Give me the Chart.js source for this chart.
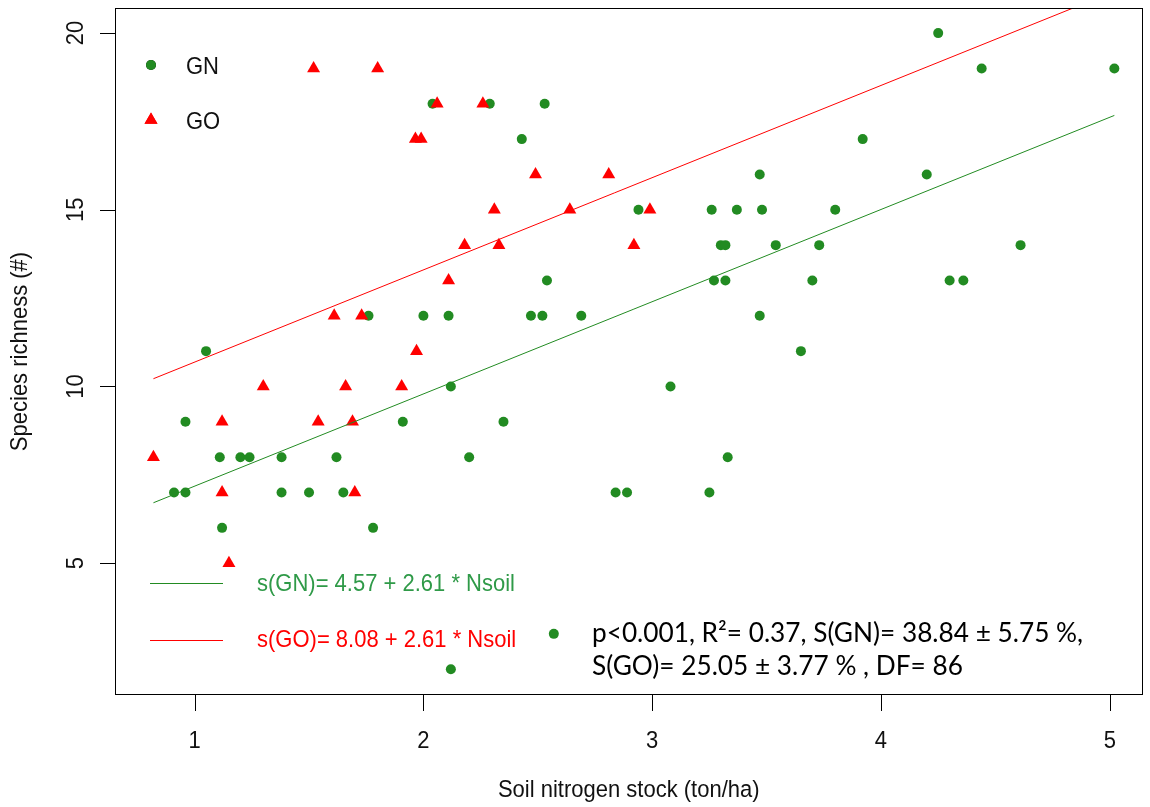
<!DOCTYPE html>
<html>
<head>
<meta charset="utf-8">
<script src="https://cdn.jsdelivr.net/npm/chart.js@4.4.1/dist/chart.umd.min.js"></script>
<style>
  html, body { margin: 0; padding: 0; background: #fff; }
  #wrap { width: 1150px; height: 807px; position: relative; }
</style>
</head>
<body>
<div id="wrap"><canvas id="plot"></canvas></div>
<script>
// GN plots: soil nitrogen stock (ton/ha) and species richness
const gnNitrogen = [4.25, 4.44, 5.02, 2.04, 2.29, 2.53, 2.43, 3.92, 3.47, 4.20,
    2.94, 3.26, 3.37, 3.48, 3.80, 3.30, 3.32, 3.54, 3.73, 4.61,
    2.54, 3.27, 3.32, 3.70, 4.30, 4.36, 1.76, 2.00, 2.11, 2.47,
    2.52, 2.69, 3.47, 1.05, 3.65, 2.12, 3.08, 0.96, 1.91, 2.35,
    1.11, 1.20, 1.24, 1.38, 1.62, 2.20, 3.33, 0.91, 0.96, 1.38,
    1.50, 1.65, 2.84, 2.89, 3.25, 1.12, 1.78, 2.57, 2.12];
const gnRichness = [20, 19, 19, 18, 18, 18, 17, 17, 16, 16,
    15, 15, 15, 15, 15, 14, 14, 14, 14, 14,
    13, 13, 13, 13, 13, 13, 12, 12, 12, 12,
    12, 12, 12, 11, 11, 10, 10, 9, 9, 9,
    8, 8, 8, 8, 8, 8, 8, 7, 7, 7,
    7, 7, 7, 7, 7, 6, 6, 3, 2];

// GO plots
const goNitrogen = [1.52, 1.80, 2.06, 2.26, 1.965, 1.99, 2.49, 2.81, 2.31, 2.64,
    2.99, 2.18, 2.33, 2.92, 2.11, 1.61, 1.73, 1.97, 1.30, 1.66,
    1.905, 1.12, 1.54, 1.69, 0.82, 1.12, 1.70, 1.15];
const goRichness = [19, 19, 18, 18, 17, 17, 16, 16, 15, 15,
    15, 14, 14, 14, 13, 12, 12, 11, 10, 10,
    10, 9, 9, 9, 8, 7, 7, 5];

// fitted lines, read at both ends of the data range
const fitNitrogen = [0.82, 5.02];
const gnFit = [6.71, 17.67];
const goFit = [10.22, 21.18];

const xTicks = [1, 2, 3, 4, 5];
const yTicks = [5, 10, 15, 20];

const xTitle = 'Soil nitrogen stock (ton/ha)';
const yTitle = 'Species richness (#)';
const seriesNames = ['GN', 'GO'];
const eqTexts = ['s(GN)= 4.57 + 2.61 * Nsoil', 's(GO)= 8.08 + 2.61 * Nsoil'];
const statTexts = ['p<0.001, R\u00b2= 0.37, S(GN)= 38.84 \u00b1 5.75 %,', 'S(GO)= 25.05 \u00b1 3.77 % , DF= 86'];

const GREEN = '#228B22';
const RED = '#FF0000';
const EQ_GREEN = '#2f9a48';

const zip = (xs, ys) => xs.map((x, i) => ({ x: x, y: ys[i] }));

const rFont = '22px "Liberation Sans", Arial, sans-serif';
const stretch = 1.08;

function rText(ctx, txt, x, y, align, rot) {
    ctx.save();
    ctx.translate(x, y);
    if (rot) ctx.rotate(rot);
    ctx.scale(1, stretch);
    ctx.textAlign = align;
    ctx.textBaseline = 'middle';
    ctx.fillText(txt, 0, 0);
    ctx.restore();
}

// R-style frame, ticks, labels and legends
const rDecor = {
    id: 'rDecor',
    afterDatasetsDraw(chart) {
        const ctx = chart.ctx;
        const a = chart.chartArea;
        const xs = chart.scales.x, ys = chart.scales.y;
        ctx.save();
        ctx.strokeStyle = '#000';
        ctx.lineWidth = 1;
        ctx.strokeRect(Math.round(a.left) + 0.5, Math.round(a.top) + 0.5,
            Math.round(a.right - a.left) - 1, Math.round(a.bottom - a.top) - 1);

        ctx.beginPath();
        xTicks.forEach(v => {
            const px = Math.round(xs.getPixelForValue(v)) + 0.5;
            ctx.moveTo(px, a.bottom);
            ctx.lineTo(px, a.bottom + 16);
        });
        yTicks.forEach(v => {
            const py = Math.round(ys.getPixelForValue(v)) + 0.5;
            ctx.moveTo(a.left, py);
            ctx.lineTo(a.left - 15, py);
        });
        ctx.stroke();

        ctx.fillStyle = '#111';
        ctx.font = rFont;
        xTicks.forEach(v => rText(ctx, String(v), xs.getPixelForValue(v), 741, 'center'));
        yTicks.forEach(v => rText(ctx, String(v), 76, ys.getPixelForValue(v), 'center', -Math.PI / 2));
        rText(ctx, xTitle, (a.left + a.right) / 2, 790, 'center');
        rText(ctx, yTitle, 20, (a.top + a.bottom) / 2, 'center', -Math.PI / 2);

        // series legend
        Chart.helpers.drawPoint(ctx, { pointStyle: 'circle', radius: 5, borderWidth: 0 }, 151, 65);
        ctx.fillStyle = GREEN;
        ctx.beginPath(); ctx.arc(151, 65, 5, 0, Math.PI * 2); ctx.fill();
        ctx.fillStyle = RED;
        Chart.helpers.drawPoint(ctx, { pointStyle: 'triangle', radius: 7.5, borderWidth: 0 }, 151, 120);
        ctx.fill();
        ctx.fillStyle = '#111';
        rText(ctx, seriesNames[0], 186, 67, 'left');
        rText(ctx, seriesNames[1], 186, 122, 'left');

        // fitted line legend
        ctx.lineWidth = 1;
        ctx.strokeStyle = GREEN;
        ctx.beginPath(); ctx.moveTo(150, 583.5); ctx.lineTo(223, 583.5); ctx.stroke();
        ctx.strokeStyle = RED;
        ctx.beginPath(); ctx.moveTo(150, 640.5); ctx.lineTo(223, 640.5); ctx.stroke();
        ctx.fillStyle = EQ_GREEN;
        rText(ctx, eqTexts[0], 257, 584, 'left');
        ctx.fillStyle = RED;
        rText(ctx, eqTexts[1], 257, 640, 'left');

        // statistics text
        ctx.fillStyle = '#000';
        let size = 24;
        ctx.font = size + 'px Lato, "Open Sans", sans-serif';
        size = size * 491 / ctx.measureText(statTexts[0]).width;
        ctx.font = size.toFixed(2) + 'px Lato, "Open Sans", sans-serif';
        ctx.textAlign = 'left';
        ctx.textBaseline = 'middle';
        ctx.fillText(statTexts[0], 592, 634);
        ctx.fillText(statTexts[1], 592, 667);
        ctx.restore();
    }
};

const chart = new Chart(document.getElementById('plot'), {
    type: 'scatter',
    data: {
        datasets: [
            {
                label: 'GN fit',
                type: 'line',
                data: zip(fitNitrogen, gnFit),
                borderColor: GREEN,
                borderWidth: 1,
                pointRadius: 0,
                fill: false,
                order: 0
            },
            {
                label: 'GO fit',
                type: 'line',
                data: zip(fitNitrogen, goFit),
                borderColor: RED,
                borderWidth: 1,
                pointRadius: 0,
                fill: false,
                order: 0
            },
            {
                label: 'GO',
                data: zip(goNitrogen, goRichness),
                pointStyle: 'triangle',
                pointRadius: 7.5,
                backgroundColor: RED,
                borderWidth: 0,
                order: 1
            },
            {
                label: 'GN',
                data: zip(gnNitrogen, gnRichness),
                pointStyle: 'circle',
                pointRadius: 5,
                backgroundColor: GREEN,
                borderWidth: 0,
                order: 2
            }
        ]
    },
    options: {
        responsive: true,
        maintainAspectRatio: false,
        animation: false,
        layout: { padding: { left: 115, top: 8, right: 2, bottom: 112 } },
        plugins: {
            legend: { display: false },
            tooltip: { enabled: false }
        },
        scales: {
            x: { type: 'linear', min: 0.652, max: 5.143, display: false },
            y: { type: 'linear', min: 1.27, max: 20.71, display: false }
        }
    },
    plugins: [rDecor]
});
</script>
</body>
</html>
